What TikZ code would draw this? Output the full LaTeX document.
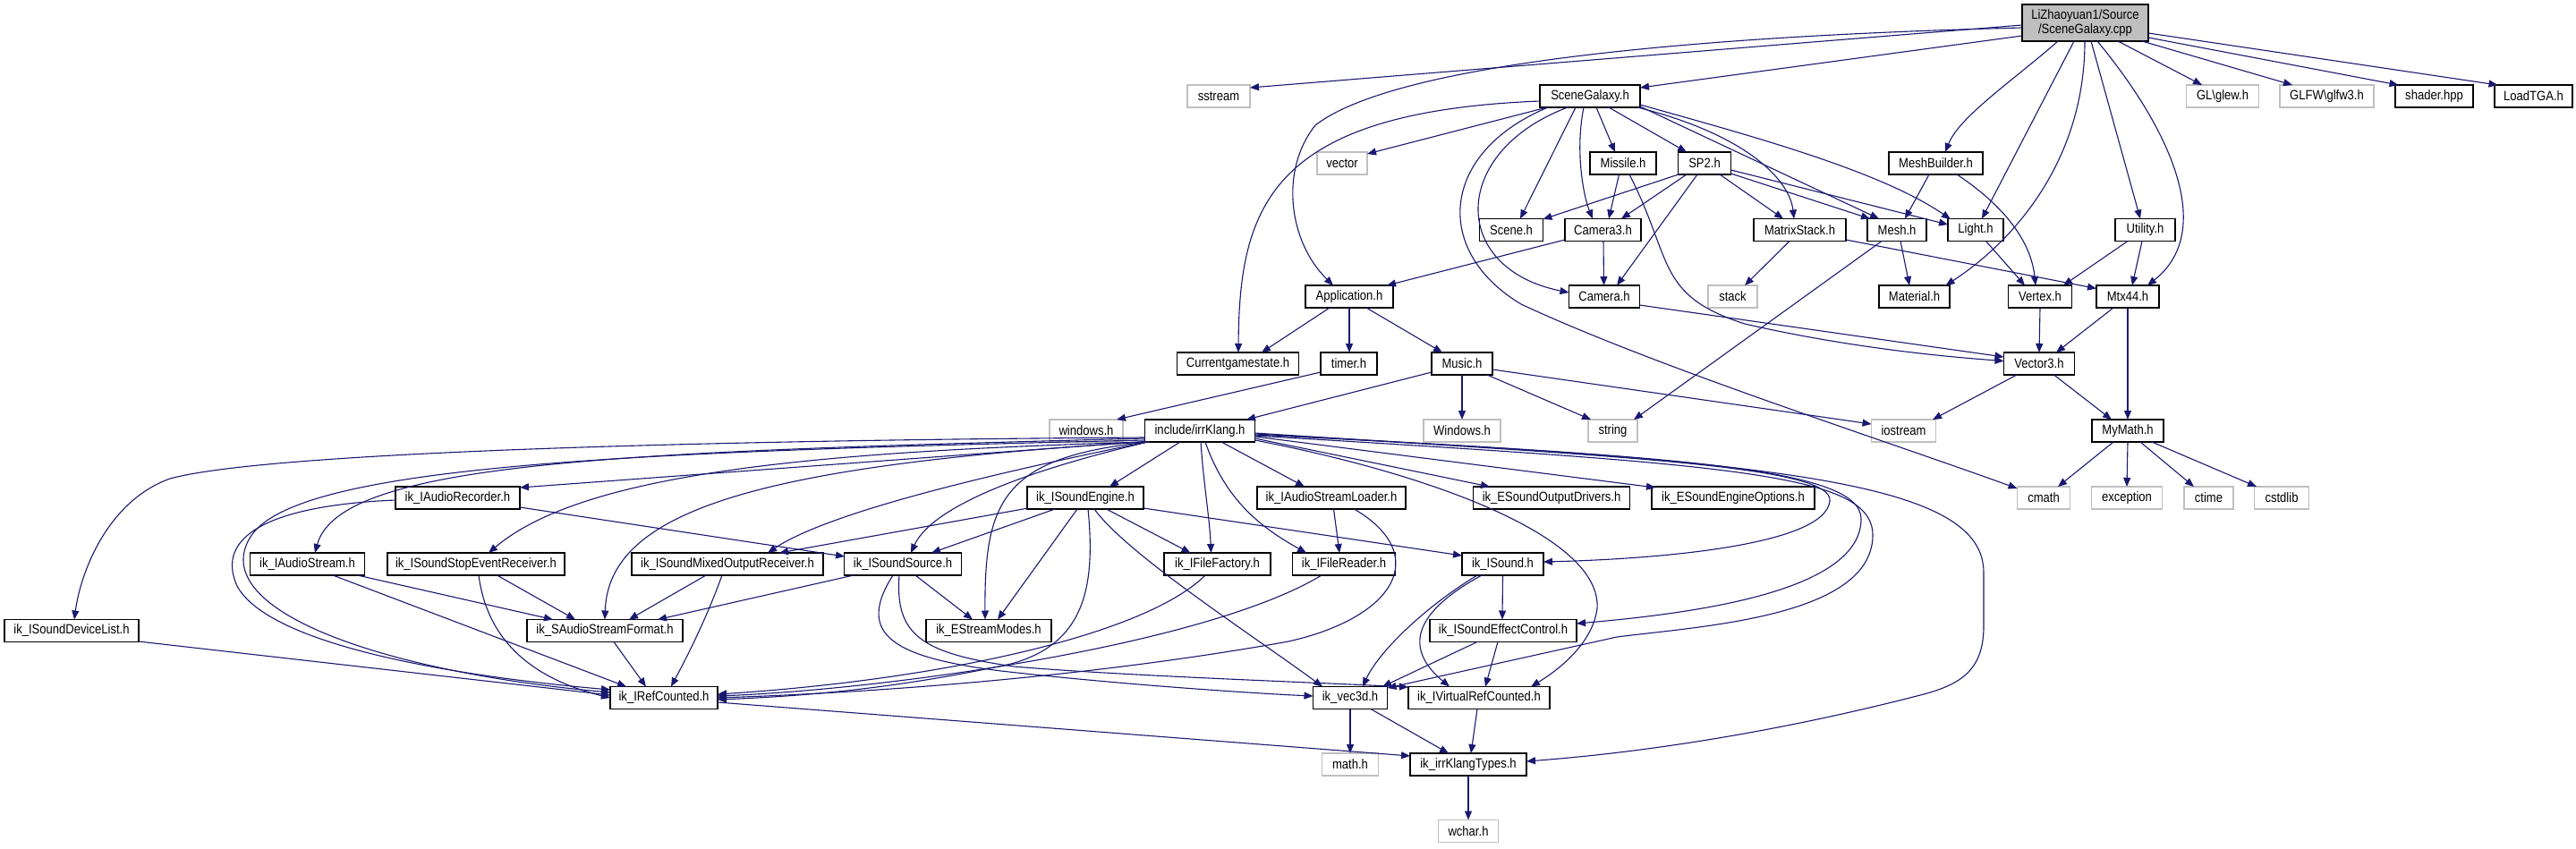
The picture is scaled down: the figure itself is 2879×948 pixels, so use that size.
\documentclass[tikz,border=0pt]{standalone}
\usepackage{fontspec}
\setmainfont[FakeStretch=0.87]{Liberation Sans}
\usetikzlibrary{arrows.meta}
\definecolor{edgeblue}{HTML}{191970}
\definecolor{extgray}{HTML}{BFBFBF}
\begin{document}
\begin{tikzpicture}[x=1pt,y=-1pt,
  box/.style={draw=black,line width=1.3pt,minimum height=25pt,inner xsep=2pt,inner ysep=0pt,font=\fontsize{15}{15.5}\selectfont,fill=white},
  extbox/.style={box,draw=extgray},
  mainbox/.style={box,fill=extgray,minimum height=41pt,align=center},
  lnk/.style={draw=edgeblue,line width=1.1pt,-{Triangle[length=10pt,width=8pt]}}]
\useasboundingbox (0,0) rectangle (2879,948);
% ---------- nodes ----------
\node[mainbox,minimum width=141pt] (main) at (2330.5,25.5) {LiZhaoyuan1/Source\\/SceneGalaxy.cpp};
\node[extbox,minimum width=70pt] (sstream) at (1362,107.5) {sstream};
\node[box,minimum width=112pt] (sg) at (1777,107.5) {SceneGalaxy.h};
\node[extbox,minimum width=81pt] (glew) at (2484,107.5) {GL\textbackslash glew.h};
\node[extbox,minimum width=105pt] (glfw) at (2600.5,107.5) {GLFW\textbackslash glfw3.h};
\node[box,minimum width=87pt] (shader) at (2720.5,107.5) {shader.hpp};
\node[box,minimum width=87pt] (tga) at (2831.5,107.5) {LoadTGA.h};
\node[extbox,minimum width=56pt] (vector) at (1500,182.5) {vector};
\node[box,minimum width=74pt] (missile) at (1814,182.5) {Missile.h};
\node[box,minimum width=59pt] (sp2) at (1905,182.5) {SP2.h};
\node[box,minimum width=105pt] (meshb) at (2163.5,182.5) {MeshBuilder.h};
\node[box,minimum width=71pt] (scene) at (1689,257) {Scene.h};
\node[box,minimum width=85pt] (cam3) at (1791.5,257) {Camera3.h};
\node[box,minimum width=103pt] (mstack) at (2011.5,257) {MatrixStack.h};
\node[box,minimum width=66pt] (mesh) at (2120,257) {Mesh.h};
\node[box,minimum width=62pt] (light) at (2208,257) {Light.h};
\node[box,minimum width=67pt] (utility) at (2397.5,257) {Utility.h};
\node[box,minimum width=98pt] (app) at (1508,331.5) {Application.h};
\node[box,minimum width=79pt] (camera) at (1793,331.5) {Camera.h};
\node[extbox,minimum width=55pt] (stack) at (1936.5,331.5) {stack};
\node[box,minimum width=79pt] (material) at (2139.5,331.5) {Material.h};
\node[box,minimum width=71pt] (vertex) at (2280,331.5) {Vertex.h};
\node[box,minimum width=70pt] (mtx) at (2378,331.5) {Mtx44.h};
\node[box,minimum width=136pt] (cgs) at (1383.5,406.5) {Currentgamestate.h};
\node[box,minimum width=63pt] (timer) at (1507.5,406.5) {timer.h};
\node[box,minimum width=68pt] (music) at (1634,406.5) {Music.h};
\node[box,minimum width=79pt] (vec3) at (2279,406.5) {Vector3.h};
\node[extbox,minimum width=82pt] (winl) at (1214,481.5) {windows.h};
\node[box,minimum width=123pt] (irr) at (1341,481.5) {include/irrKlang.h};
\node[extbox,minimum width=86pt] (winu) at (1634,481.5) {Windows.h};
\node[extbox,minimum width=55pt] (string) at (1802.5,481.5) {string};
\node[extbox,minimum width=72pt] (iostream) at (2127.5,481.5) {iostream};
\node[box,minimum width=80pt] (mymath) at (2378,481.5) {MyMath.h};
\node[box,minimum width=139pt] (arec) at (511.5,556.5) {ik\_IAudioRecorder.h};
\node[box,minimum width=130pt] (seng) at (1213,556.5) {ik\_ISoundEngine.h};
\node[box,minimum width=166pt] (asl) at (1488,556.5) {ik\_IAudioStreamLoader.h};
\node[box,minimum width=175pt] (esod) at (1734,556.5) {ik\_ESoundOutputDrivers.h};
\node[box,minimum width=182pt] (eseo) at (1937,556.5) {ik\_ESoundEngineOptions.h};
\node[extbox,minimum width=59pt] (cmath) at (2284,556.5) {cmath};
\node[extbox,minimum width=79pt] (exception) at (2377,556.5) {exception};
\node[extbox,minimum width=55pt] (ctime) at (2468.5,556.5) {ctime};
\node[extbox,minimum width=61pt] (cstdlib) at (2550,556.5) {cstdlib};
\node[box,minimum width=128pt] (astream) at (343.5,630.5) {ik\_IAudioStream.h};
\node[box,minimum width=198pt] (stopev) at (532,630.5) {ik\_ISoundStopEventReceiver.h};
\node[box,minimum width=214pt] (mixed) at (813,630.5) {ik\_ISoundMixedOutputReceiver.h};
\node[box,minimum width=131pt] (ssrc) at (1009,630.5) {ik\_ISoundSource.h};
\node[box,minimum width=119pt] (ffac) at (1360.5,630.5) {ik\_IFileFactory.h};
\node[box,minimum width=115pt] (frd) at (1502,630.5) {ik\_IFileReader.h};
\node[box,minimum width=91pt] (snd) at (1679.5,630.5) {ik\_ISound.h};
\node[box,minimum width=150pt] (devl) at (80,705) {ik\_ISoundDeviceList.h};
\node[box,minimum width=174pt] (saf) at (676,705) {ik\_SAudioStreamFormat.h};
\node[box,minimum width=140pt] (esm) at (1105,705) {ik\_EStreamModes.h};
\node[box,minimum width=164pt] (sec) at (1680,705) {ik\_ISoundEffectControl.h};
\node[box,minimum width=120pt] (refc) at (742,780) {ik\_IRefCounted.h};
\node[box,minimum width=83pt] (vec3d) at (1509,780) {ik\_vec3d.h};
\node[box,minimum width=158pt] (vrc) at (1653,780) {ik\_IVirtualRefCounted.h};
\node[extbox,minimum width=63pt] (mathh) at (1509,854.5) {math.h};
\node[box,minimum width=130pt] (types) at (1641,854.5) {ik\_irrKlangTypes.h};
\node[extbox,minimum width=67pt] (wchar) at (1641,929) {wchar.h};
% ---------- edges from main ----------
\draw[lnk] ([shift={(-70.5,2.5)}]main.center) -- ([shift={(35,-9.5)}]sstream.center);
\draw[lnk] ([shift={(-70.5,14.5)}]main.center) -- ([shift={(56,-9.5)}]sg.center);
\draw[lnk] ([shift={(-70.5,5.5)}]main.center) .. controls (1900,40) and (1560,70) .. (1470,140) .. controls (1430,190) and (1440,270) .. ([shift={(-18,-12.5)}]app.center);
\draw[lnk] ([shift={(-30.5,20.5)}]main.center) .. controls (2250,90) and (2190,130) .. ([shift={(10.5,-12.5)}]meshb.center);
\draw[lnk] ([shift={(-12.5,20.5)}]main.center) -- ([shift={(7,-12.5)}]light.center);
\draw[lnk] ([shift={(-0.5,20.5)}]main.center) .. controls (2330,180) and (2250,270) .. ([shift={(35,-12.5)}]material.center);
\draw[lnk] ([shift={(6.5,20.5)}]main.center) -- ([shift={(-5.5,-12.5)}]utility.center);
\draw[lnk] ([shift={(13.5,20.5)}]main.center) .. controls (2430,150) and (2475,260) .. ([shift={(22,-12.5)}]mtx.center);
\draw[lnk] ([shift={(36.5,20.5)}]main.center) -- ([shift={(-23,-12.5)}]glew.center);
\draw[lnk] ([shift={(63.5,20.5)}]main.center) -- ([shift={(-38.5,-12.5)}]glfw.center);
\draw[lnk] ([shift={(70.5,16.5)}]main.center) -- ([shift={(-40,-12.5)}]shader.center);
\draw[lnk] ([shift={(70.5,11.5)}]main.center) -- ([shift={(-40,-12.5)}]tga.center);
% ---------- SceneGalaxy.h ----------
\draw[lnk] ([shift={(-48,12.5)}]sg.center) -- ([shift={(28,-10.5)}]vector.center);
\draw[lnk] ([shift={(-56,5.5)}]sg.center) .. controls (1420,125) and (1385,230) .. ([shift={(0.5,-12.5)}]cgs.center);
\draw[lnk] ([shift={(-16,12.5)}]sg.center) -- ([shift={(10,-12.5)}]scene.center);
\draw[lnk] ([shift={(-7,12.5)}]sg.center) .. controls (1760,170) and (1770,220) .. ([shift={(-11.5,-12.5)}]cam3.center);
\draw[lnk] ([shift={(7,12.5)}]sg.center) -- ([shift={(-9,-12.5)}]missile.center);
\draw[lnk] ([shift={(21,12.5)}]sg.center) -- ([shift={(-20,-12.5)}]sp2.center);
\draw[lnk] ([shift={(53,12.5)}]sg.center) .. controls (1950,150) and (2000,200) .. ([shift={(-6.5,-12.5)}]mstack.center);
\draw[lnk] ([shift={(56,11.5)}]sg.center) -- ([shift={(-20,-12.5)}]mesh.center);
\draw[lnk] ([shift={(56,9.5)}]sg.center) .. controls (1950,150) and (2100,190) .. ([shift={(-28,-12)}]light.center);
\draw[lnk] ([shift={(-25,12.5)}]sg.center) .. controls (1620,170) and (1620,300) .. ([shift={(-39.5,-4.5)}]camera.center);
\draw[lnk] ([shift={(-47,12.5)}]sg.center) .. controls (1610,170) and (1600,280) .. (1700,340) .. controls (1850,410) and (2100,490) .. ([shift={(-29.5,-10.5)}]cmath.center);
% ---------- Missile, SP2, MeshBuilder ----------
\draw[lnk] ([shift={(-4.5,12.5)}]missile.center) -- ([shift={(6.5,-12.5)}]cam3.center);
\draw[lnk] ([shift={(7,12.5)}]missile.center) .. controls (1870,290) and (1850,330) .. (1950,362) .. controls (2050,385) and (2150,397) .. ([shift={(-39.5,-3)}]vec3.center);
\draw[lnk] ([shift={(-29,12.5)}]sp2.center) -- ([shift={(35.5,-12)}]scene.center);
\draw[lnk] ([shift={(-20,12.5)}]sp2.center) -- ([shift={(20.5,-12.5)}]cam3.center);
\draw[lnk] ([shift={(-8,12.5)}]sp2.center) -- ([shift={(14,-12.5)}]camera.center);
\draw[lnk] ([shift={(17,12.5)}]sp2.center) -- ([shift={(-18.5,-12.5)}]mstack.center);
\draw[lnk] ([shift={(29.5,11.5)}]sp2.center) -- ([shift={(-30,-12.5)}]mesh.center);
\draw[lnk] ([shift={(29.5,7.5)}]sp2.center) -- ([shift={(-31,-6)}]light.center);
\draw[lnk] ([shift={(-7.5,12.5)}]meshb.center) -- ([shift={(9,-12.5)}]mesh.center);
\draw[lnk] ([shift={(23.5,12.5)}]meshb.center) .. controls (2240,230) and (2270,270) .. ([shift={(-5,-12.5)}]vertex.center);
% ---------- row 4 ----------
\draw[lnk] ([shift={(-42.5,11)}]cam3.center) -- ([shift={(42,-12.5)}]app.center);
\draw[lnk] ([shift={(0.5,12.5)}]cam3.center) -- ([shift={(-0.5,-12.5)}]camera.center);
\draw[lnk] ([shift={(-11.5,12.5)}]mstack.center) -- ([shift={(13.5,-12.5)}]stack.center);
\draw[lnk] ([shift={(51.5,11)}]mstack.center) -- ([shift={(-35,-9)}]mtx.center);
\draw[lnk] ([shift={(4,12.5)}]mesh.center) -- ([shift={(-5.5,-12.5)}]material.center);
\draw[lnk] ([shift={(-17,12.5)}]mesh.center) -- ([shift={(23.5,-12.5)}]string.center);
\draw[lnk] ([shift={(11.5,12.5)}]light.center) -- ([shift={(-17,-12.5)}]vertex.center);
\draw[lnk] ([shift={(-19.5,12.5)}]utility.center) -- ([shift={(26,-12.5)}]vertex.center);
\draw[lnk] ([shift={(-3.5,12.5)}]utility.center) -- ([shift={(5,-12.5)}]mtx.center);
% ---------- row 5 ----------
\draw[lnk] ([shift={(39.5,9.5)}]camera.center) -- ([shift={(-39.5,-7.5)}]vec3.center);
\draw[lnk] ([shift={(-22,12.5)}]app.center) -- ([shift={(26.5,-12.5)}]cgs.center);
\draw[lnk] ([shift={(0,12.5)}]app.center) -- ([shift={(0.5,-12.5)}]timer.center);
\draw[lnk] ([shift={(19,12.5)}]app.center) -- ([shift={(-22,-12.5)}]music.center);
\draw[lnk] ([shift={(0,12.5)}]vertex.center) -- ([shift={(0,-12.5)}]vec3.center);
\draw[lnk] ([shift={(-16,12.5)}]mtx.center) -- ([shift={(19,-12.5)}]vec3.center);
\draw[lnk] ([shift={(0,12.5)}]mtx.center) -- ([shift={(0,-12.5)}]mymath.center);
% ---------- row 6 ----------
\draw[lnk] ([shift={(-31.5,9.5)}]timer.center) -- ([shift={(34,-12.5)}]winl.center);
\draw[lnk] ([shift={(-34,9.5)}]music.center) -- ([shift={(52,-12.5)}]irr.center);
\draw[lnk] ([shift={(0,12.5)}]music.center) -- ([shift={(0,-12.5)}]winu.center);
\draw[lnk] ([shift={(28,12.5)}]music.center) -- ([shift={(-24.5,-12.5)}]string.center);
\draw[lnk] ([shift={(34,6.5)}]music.center) -- ([shift={(-36,-7.5)}]iostream.center);
\draw[lnk] ([shift={(-25,12.5)}]vec3.center) -- ([shift={(32.5,-12.5)}]iostream.center);
\draw[lnk] ([shift={(16.5,12.5)}]vec3.center) -- ([shift={(-18,-12.5)}]mymath.center);
\draw[lnk] ([shift={(-16,12.5)}]mymath.center) -- ([shift={(16,-12.5)}]cmath.center);
\draw[lnk] ([shift={(0,12.5)}]mymath.center) -- ([shift={(0,-12.5)}]exception.center);
\draw[lnk] ([shift={(14,12.5)}]mymath.center) -- ([shift={(-16.5,-12.5)}]ctime.center);
\draw[lnk] ([shift={(27,12.5)}]mymath.center) -- ([shift={(-28,-12.5)}]cstdlib.center);
% ---------- include/irrKlang.h ----------
\draw[lnk] ([shift={(-22,12.5)}]irr.center) -- ([shift={(27,-12.5)}]seng.center);
\draw[lnk] ([shift={(1,12.5)}]irr.center) .. controls (1345,540) and (1352,580) .. ([shift={(-7,-12.5)}]ffac.center);
\draw[lnk] ([shift={(6,12.5)}]irr.center) .. controls (1370,560) and (1410,590) .. ([shift={(-42,-12.5)}]frd.center);
\draw[lnk] ([shift={(24,12.5)}]irr.center) -- ([shift={(-30,-12.5)}]asl.center);
\draw[lnk] ([shift={(61.5,8.5)}]irr.center) -- ([shift={(-69,-12.5)}]esod.center);
\draw[lnk] ([shift={(61.5,6.5)}]irr.center) -- ([shift={(-87,-11.5)}]eseo.center);
\draw[lnk] ([shift={(61.5,2.5)}]irr.center) .. controls (1800,510) and (2050,520) .. (2045,560) .. controls (2040,610) and (1850,625) .. ([shift={(45.5,-2.5)}]snd.center);
\draw[lnk] ([shift={(61.5,3.5)}]irr.center) .. controls (1850,510) and (2080,520) .. (2080,580) .. controls (2080,660) and (1900,685) .. ([shift={(82,-8)}]sec.center);
\draw[lnk] ([shift={(61.5,10.5)}]irr.center) .. controls (1600,530) and (1790,600) .. (1785,680) .. controls (1780,720) and (1740,750) .. ([shift={(58,-12.5)}]vrc.center);
\draw[lnk] ([shift={(61.5,4.5)}]irr.center) .. controls (2000,515) and (2217,540) .. (2217,640) -- (2217,700) .. controls (2217,750) and (2190,765) .. (2150,776) .. controls (2000,815) and (1850,840) .. ([shift={(65,-3.5)}]types.center);
\draw[lnk] ([shift={(61.5,5.5)}]irr.center) .. controls (1950,520) and (2095,530) .. (2093,600) .. controls (2090,690) and (1900,700) .. (1807,712) -- ([shift={(41.5,-11)}]vec3d.center);
\draw[lnk] ([shift={(-61.5,10.5)}]irr.center) .. controls (700,505) and (330,520) .. (280,600) .. controls (230,680) and (420,750) .. ([shift={(-60,-6)}]refc.center);
\draw[lnk] ([shift={(-61.5,7.5)}]irr.center) .. controls (800,492) and (300,505) .. (190,535) .. controls (120,560) and (90,640) .. ([shift={(3,-12.5)}]devl.center);
\draw[lnk] ([shift={(-61.5,8.5)}]irr.center) .. controls (700,505) and (380,515) .. ([shift={(8.5,-12.5)}]astream.center);
\draw[lnk] ([shift={(-60,12.5)}]irr.center) .. controls (900,505) and (650,530) .. ([shift={(14,-12.5)}]stopev.center);
\draw[lnk] ([shift={(-61.5,12)}]irr.center) -- ([shift={(69.5,-11.5)}]arec.center);
\draw[lnk] ([shift={(-59,12.5)}]irr.center) .. controls (1130,525) and (930,570) .. ([shift={(45,-12.5)}]mixed.center);
\draw[lnk] ([shift={(-58,12.5)}]irr.center) .. controls (1130,530) and (1040,570) .. ([shift={(9,-12.5)}]ssrc.center);
\draw[lnk] ([shift={(-56,12.5)}]irr.center) .. controls (1120,510) and (1100,560) .. ([shift={(-4,-12.5)}]esm.center);
\draw[lnk] ([shift={(-61,12.5)}]irr.center) .. controls (850,520) and (680,570) .. ([shift={(0,-12.5)}]saf.center);
% ---------- left cluster ----------
\draw[lnk] ([shift={(69.5,10.5)}]arec.center) -- ([shift={(-65,-8.5)}]ssrc.center);
\draw[lnk] ([shift={(-69.5,2.5)}]arec.center) .. controls (300,565) and (240,600) .. (265,655) .. controls (300,720) and (500,755) .. ([shift={(-60,-9)}]refc.center);
\draw[lnk] ([shift={(28.5,12.5)}]astream.center) -- ([shift={(-42,-12.5)}]refc.center);
\draw[lnk] ([shift={(56,12.5)}]astream.center) -- ([shift={(-58,-12.5)}]saf.center);
\draw[lnk] ([shift={(3,12.5)}]stopev.center) .. controls (545,720) and (600,760) .. ([shift={(-60,0)}]refc.center);
\draw[lnk] ([shift={(23.5,12.5)}]stopev.center) -- ([shift={(-33,-12.5)}]saf.center);
\draw[lnk] ([shift={(-24,12.5)}]mixed.center) -- ([shift={(27,-12.5)}]saf.center);
\draw[lnk] ([shift={(-6,12.5)}]mixed.center) .. controls (790,690) and (770,730) .. ([shift={(8,-12.5)}]refc.center);
\draw[lnk] ([shift={(10,12.5)}]saf.center) -- ([shift={(-20,-12.5)}]refc.center);
\draw[lnk] ([shift={(75,12)}]devl.center) -- ([shift={(-60,-3)}]refc.center);
\draw[lnk] ([shift={(-55,12.5)}]ssrc.center) -- ([shift={(59,-12.5)}]saf.center);
\draw[lnk] ([shift={(14,12.5)}]ssrc.center) -- ([shift={(-18,-12.5)}]esm.center);
\draw[lnk] ([shift={(-11,12.5)}]ssrc.center) .. controls (955,710) and (1000,735) .. (1119,750) .. controls (1250,765) and (1400,775) .. ([shift={(-41.5,-2)}]vec3d.center);
\draw[lnk] ([shift={(-4,12.5)}]ssrc.center) .. controls (1000,710) and (1030,730) .. (1133,745) .. controls (1250,755) and (1450,762) .. ([shift={(-79,-12)}]vrc.center);
% ---------- ik_ISoundEngine.h ----------
\draw[lnk] ([shift={(-64,11.5)}]seng.center) -- ([shift={(58,-12.5)}]mixed.center);
\draw[lnk] ([shift={(-34,12.5)}]seng.center) -- ([shift={(32,-12.5)}]ssrc.center);
\draw[lnk] ([shift={(-9,12.5)}]seng.center) -- ([shift={(10,-12.5)}]esm.center);
\draw[lnk] ([shift={(3,12.5)}]seng.center) .. controls (1225,660) and (1210,720) .. (1130,742) .. controls (1000,770) and (900,778) .. ([shift={(60,2)}]refc.center);
\draw[lnk] ([shift={(10,12.5)}]seng.center) .. controls (1260,620) and (1400,710) .. ([shift={(-31,-12.5)}]vec3d.center);
\draw[lnk] ([shift={(23.5,12.5)}]seng.center) -- ([shift={(-30,-12.5)}]ffac.center);
\draw[lnk] ([shift={(65,11.5)}]seng.center) -- ([shift={(-45.5,-9.5)}]snd.center);
% ---------- loaders, readers ----------
\draw[lnk] ([shift={(2.5,12.5)}]asl.center) -- ([shift={(-5,-12.5)}]frd.center);
\draw[lnk] ([shift={(25.5,12.5)}]asl.center) .. controls (1600,620) and (1560,690) .. (1440,717) .. controls (1200,760) and (950,775) .. ([shift={(60,0)}]refc.center);
\draw[lnk] ([shift={(-13.5,12.5)}]ffac.center) .. controls (1280,710) and (1050,760) .. ([shift={(60,-4)}]refc.center);
\draw[lnk] ([shift={(-25,12.5)}]frd.center) .. controls (1350,720) and (1000,770) .. ([shift={(60,-2)}]refc.center);
% ---------- ik_ISound.h and below ----------
\draw[lnk] ([shift={(0,12.5)}]snd.center) -- ([shift={(-1,-12.5)}]sec.center);
\draw[lnk] ([shift={(-28.5,12.5)}]snd.center) .. controls (1590,680) and (1540,730) .. ([shift={(14,-12.5)}]vec3d.center);
\draw[lnk] ([shift={(-23.5,12.5)}]snd.center) .. controls (1570,690) and (1575,730) .. ([shift={(-33,-12.5)}]vrc.center);
\draw[lnk] ([shift={(-29,12.5)}]sec.center) -- ([shift={(36,-12.5)}]vec3d.center);
\draw[lnk] ([shift={(-6,12.5)}]sec.center) -- ([shift={(7,-12.5)}]vrc.center);
\draw[lnk] ([shift={(0,12.5)}]vec3d.center) -- ([shift={(0,-12.5)}]mathh.center);
\draw[lnk] ([shift={(23,12.5)}]vec3d.center) -- ([shift={(-22,-12.5)}]types.center);
\draw[lnk] ([shift={(-2,12.5)}]vrc.center) -- ([shift={(3,-12.5)}]types.center);
\draw[lnk] ([shift={(60,5)}]refc.center) -- ([shift={(-65,-9.5)}]types.center);
\draw[lnk] ([shift={(0,12.5)}]types.center) -- ([shift={(0,-12.5)}]wchar.center);
\end{tikzpicture}
\end{document}
